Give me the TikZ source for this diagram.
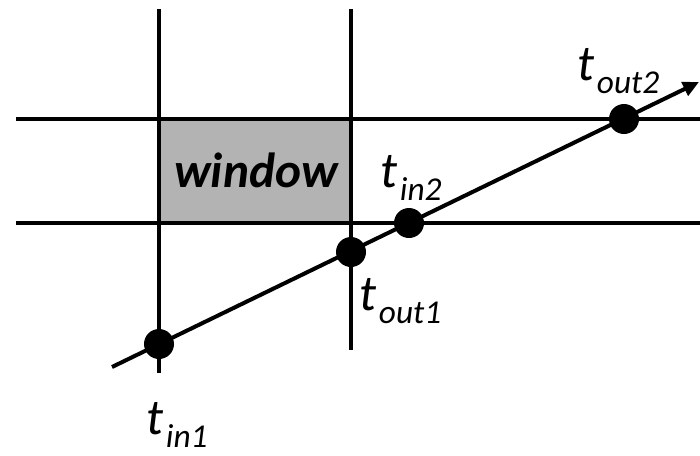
\documentclass[tikz,border=0pt]{standalone}
\usepackage{fontspec}
\setmainfont{Carlito}
\usetikzlibrary{arrows.meta}
\definecolor{windowgray}{RGB}{179,179,179}
\newcommand{\tlab}[1]{{\fontsize{38}{38}\selectfont\itshape t}\kern2pt\raisebox{-10pt}{\fontsize{25}{25}\selectfont\itshape #1}}
\begin{document}
\begin{tikzpicture}[x=0.75pt,y=-0.75pt,
  gridline/.style={line width=2.5pt},
  rayline/.style={line width=3pt,-{Triangle[length=12pt,width=11pt]}},
  dot/.style={circle,fill=black,inner sep=0pt,minimum size=22.5pt},
  tlabel/.style={anchor=base west,inner sep=0pt},
  winlabel/.style={anchor=base,inner sep=0pt,font=\fontsize{37}{37}\selectfont\bfseries\itshape}]
\useasboundingbox (0,0) rectangle (700,455);
% window fill
\fill[windowgray] (159,119) rectangle (351,223);
% grid line endpoints
\coordinate (v1t) at (159,9);
\coordinate (v1b) at (159,373);
\coordinate (v2t) at (351,9);
\coordinate (v2b) at (351,350);
\coordinate (h1l) at (16,119);
\coordinate (h1r) at (700,119);
\coordinate (h2l) at (16,223);
\coordinate (h2r) at (700,223);
\draw[gridline] (v1t) -- (v1b);
\draw[gridline] (v2t) -- (v2b);
\draw[gridline] (h1l) -- (h1r);
\draw[gridline] (h2l) -- (h2r);
\node[winlabel] (win) at (256,187) {window};
% ray
\coordinate (rs) at (112,367);
\coordinate (re) at (699,82);
\draw[rayline] (rs) -- (re);
\node[dot] (in1) at (159,344) {};
\node[dot] (out1) at (351,252) {};
\node[dot] (in2) at (409,223) {};
\node[dot] (out2) at (624,119) {};
% labels
\node[tlabel] (lin1) at (146,434) {\tlab{in1}};
\node[tlabel] (lout1) at (359,310) {\tlab{out1}};
\node[tlabel] (lin2) at (380,187) {\tlab{in2}};
\node[tlabel] (lout2) at (577,80) {\tlab{out2}};
\end{tikzpicture}
\end{document}
